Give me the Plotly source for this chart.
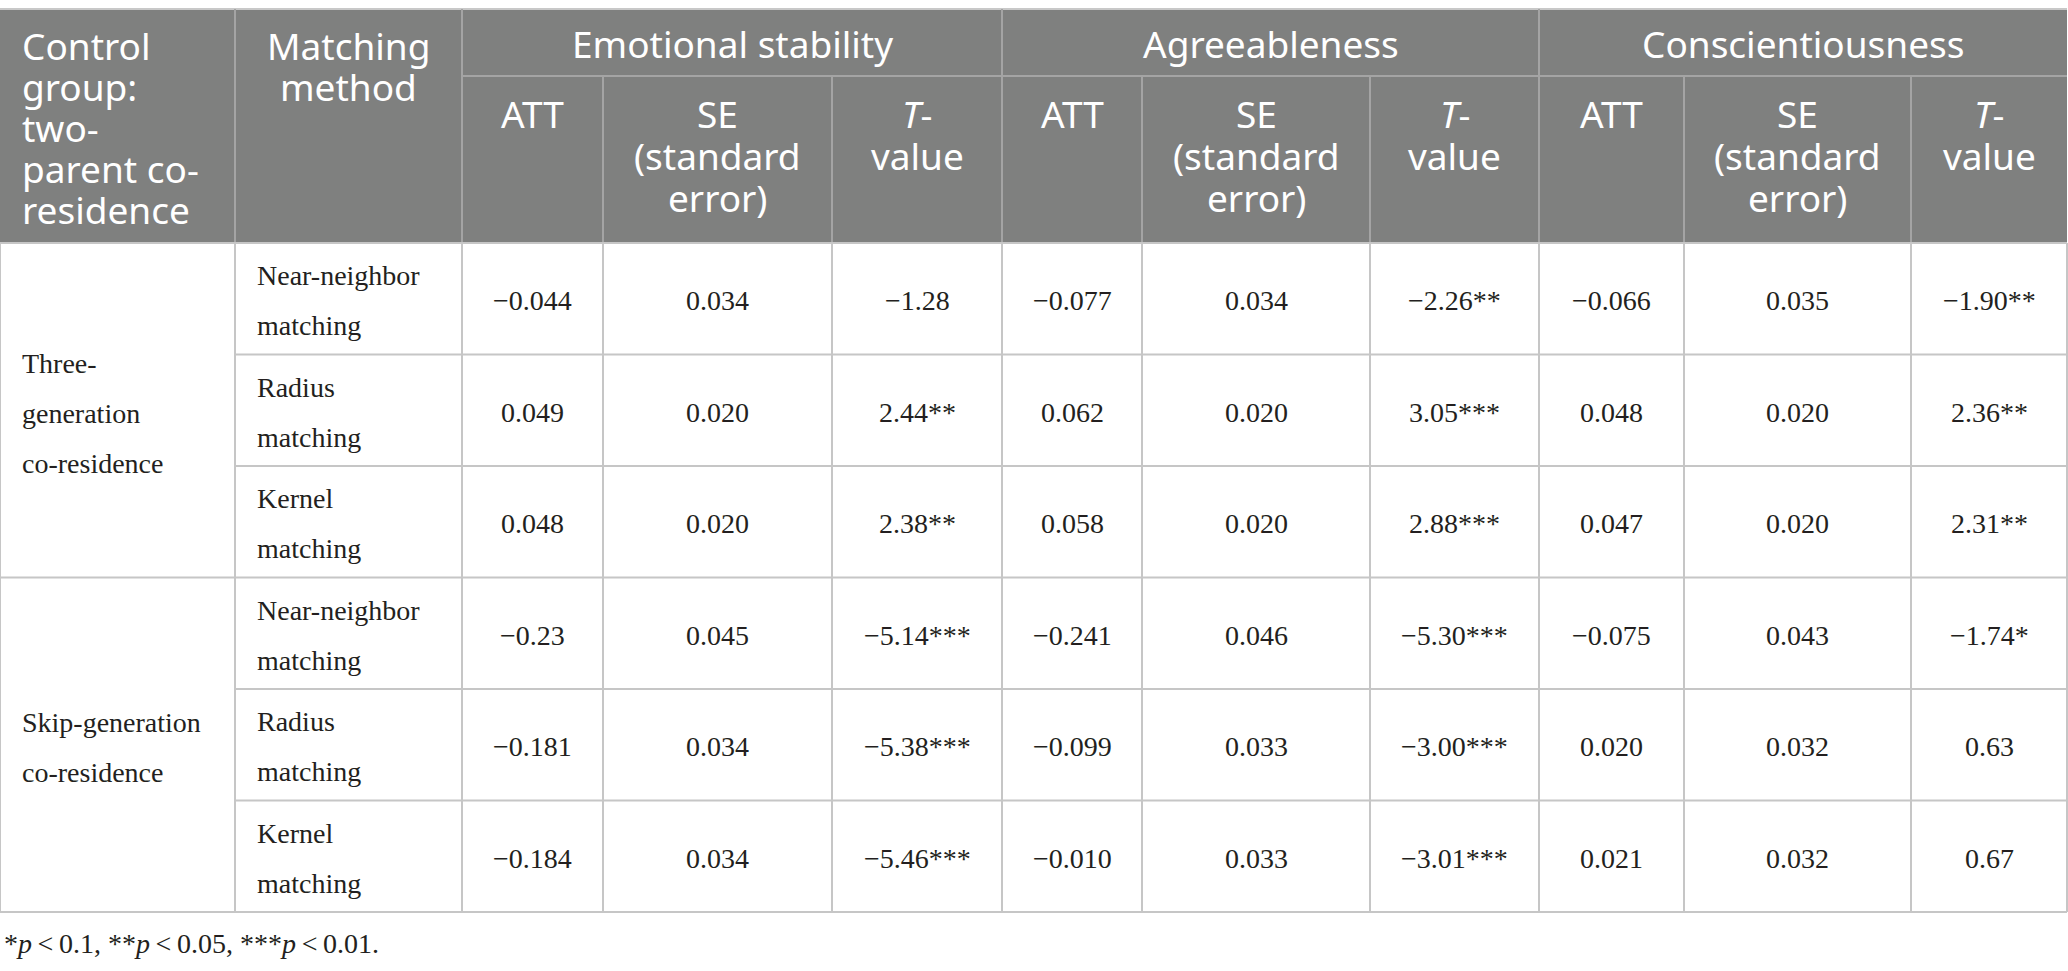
import plotly.graph_objects as go

# ---- table content -------------------------------------------------------
TRAITS = ["Emotional stability", "Agreeableness", "Conscientiousness"]
SUB_HEADERS = ["ATT", "SE\n(standard\nerror)", "<i>T</i>-\nvalue"]
CONTROL_HEADER = "Control\ngroup:\ntwo-\nparent co-\nresidence"
METHOD_HEADER = "Matching\nmethod"

GROUP_LABELS = ["Three-\ngeneration\nco-residence", "Skip-generation\nco-residence"]
METHOD_LABELS = ["Near-neighbor\nmatching", "Radius\nmatching", "Kernel\nmatching"]

ES_ATT = ["−0.044", "0.049", "0.048", "−0.23", "−0.181", "−0.184"]
ES_SE = ["0.034", "0.020", "0.020", "0.045", "0.034", "0.034"]
ES_T = ["−1.28", "2.44**", "2.38**", "−5.14***", "−5.38***", "−5.46***"]

AG_ATT = ["−0.077", "0.062", "0.058", "−0.241", "−0.099", "−0.010"]
AG_SE = ["0.034", "0.020", "0.020", "0.046", "0.033", "0.033"]
AG_T = ["−2.26**", "3.05***", "2.88***", "−5.30***", "−3.00***", "−3.01***"]

CO_ATT = ["−0.066", "0.048", "0.047", "−0.075", "0.020", "0.021"]
CO_SE = ["0.035", "0.020", "0.020", "0.043", "0.032", "0.032"]
CO_T = ["−1.90**", "2.36**", "2.31**", "−1.74*", "0.63", "0.67"]

FOOTNOTE = ("*<i>p</i>\u2009&lt;\u20090.1, **<i>p</i>\u2009&lt;\u20090.05, "
            "***<i>p</i>\u2009&lt;\u20090.01.")

# ---- geometry / style ----------------------------------------------------
W, H = 2068, 971
COL_EDGES = [0, 235, 462, 603, 832, 1002, 1142, 1370, 1539, 1684, 1911, 2067]
TOP = 9
GROUP_ROW_BOTTOM = 76
HEADER_BOTTOM = 243
ROW_H = 111.5

HEAD_BG = "#7f807f"
HEAD_LINE = "#a4a4a4"
BODY_LINE = "#c6c6c6"
TEXT = "#231f20"

HEAD_FONT = dict(family="Noto Sans", size=37, color="white")
BODY_FONT = dict(family="Liberation Serif", size=28, color=TEXT)

fig = go.Figure()


def add_lines(lines, x, y_first, spacing, xanchor, font):
    for i, s in enumerate(lines):
        fig.add_annotation(x=x, y=y_first + i * spacing, text=s, xanchor=xanchor,
                           yanchor="middle", showarrow=False, font=font,
                           xref="x", yref="y")


def add_centered(lines, x, y_mid, spacing, xanchor, font):
    n = len(lines)
    add_lines(lines, x, y_mid - (n - 1) / 2 * spacing, spacing, xanchor, font)


def hline(y, x0, x1, color, width=2):
    fig.add_shape(type="line", x0=x0, x1=x1, y0=y, y1=y, xref="x", yref="y",
                  line=dict(color=color, width=width))


def vline(x, y0, y1, color, width=2):
    fig.add_shape(type="line", x0=x, x1=x, y0=y0, y1=y1, xref="x", yref="y",
                  line=dict(color=color, width=width))


# header block
fig.add_shape(type="rect", x0=COL_EDGES[0], x1=COL_EDGES[-1], y0=TOP, y1=HEADER_BOTTOM,
              xref="x", yref="y", fillcolor=HEAD_BG, line=dict(width=0), layer="below")
hline(TOP, COL_EDGES[0], COL_EDGES[-1], "#c8c8c8", 2)
hline(GROUP_ROW_BOTTOM, COL_EDGES[2], COL_EDGES[-1], HEAD_LINE, 2)
for k in (1, 2, 5, 8):
    vline(COL_EDGES[k], TOP, HEADER_BOTTOM, HEAD_LINE, 2)
for k in (3, 4, 6, 7, 9, 10):
    vline(COL_EDGES[k], GROUP_ROW_BOTTOM, HEADER_BOTTOM, HEAD_LINE, 2)

add_lines(CONTROL_HEADER.split("\n"), COL_EDGES[0] + 20, 45, 41, "left", HEAD_FONT)
add_lines(METHOD_HEADER.split("\n"), (COL_EDGES[1] + COL_EDGES[2]) / 2, 45, 41,
          "center", HEAD_FONT)

for t, trait in enumerate(TRAITS):
    x0 = COL_EDGES[2 + 3 * t]
    x1 = COL_EDGES[5 + 3 * t]
    add_lines([trait], (x0 + x1) / 2, 43, 41, "center", HEAD_FONT)
    for s, sub in enumerate(SUB_HEADERS):
        c0 = COL_EDGES[2 + 3 * t + s]
        c1 = COL_EDGES[3 + 3 * t + s]
        add_lines(sub.split("\n"), (c0 + c1) / 2, 113, 42, "center", HEAD_FONT)

# body grid
n_rows = len(ES_ATT)
row_edges = [HEADER_BOTTOM + i * ROW_H for i in range(n_rows + 1)]
per_group = len(METHOD_LABELS)
for i, y in enumerate(row_edges):
    if i % per_group == 0:
        hline(y, COL_EDGES[0], COL_EDGES[-1], BODY_LINE, 2)
    else:
        hline(y, COL_EDGES[1], COL_EDGES[-1], BODY_LINE, 2)
for x in COL_EDGES:
    vline(x, HEADER_BOTTOM, row_edges[-1], BODY_LINE, 2)

# group labels
for g, label in enumerate(GROUP_LABELS):
    y_mid = (row_edges[g * per_group] + row_edges[(g + 1) * per_group]) / 2
    add_centered(label.split("\n"), COL_EDGES[0] + 20, y_mid + 3, 50, "left", BODY_FONT)

# rows
columns = [ES_ATT, ES_SE, ES_T, AG_ATT, AG_SE, AG_T, CO_ATT, CO_SE, CO_T]
for r in range(n_rows):
    y_mid = (row_edges[r] + row_edges[r + 1]) / 2
    method = METHOD_LABELS[r % per_group]
    add_centered(method.split("\n"), COL_EDGES[1] + 20, y_mid + 2, 50, "left", BODY_FONT)
    for c, col in enumerate(columns):
        xc = (COL_EDGES[2 + c] + COL_EDGES[3 + c]) / 2
        add_lines([col[r]], xc, y_mid + 2, 0, "center", BODY_FONT)

fig.add_annotation(x=2, y=943, text=FOOTNOTE, xanchor="left", yanchor="middle",
                   showarrow=False, font=BODY_FONT, xref="x", yref="y")

fig.update_layout(
    width=W,
    height=H,
    margin=dict(l=0, r=0, t=0, b=0),
    paper_bgcolor="white",
    plot_bgcolor="white",
    showlegend=False,
    xaxis=dict(range=[0, W], visible=False, fixedrange=True),
    yaxis=dict(range=[H, 0], visible=False, fixedrange=True),
)

fig.write_html("out.html", config={"displayModeBar": False},
               post_script="document.body.style.margin='0';"
                           "document.body.style.overflow='hidden';")
